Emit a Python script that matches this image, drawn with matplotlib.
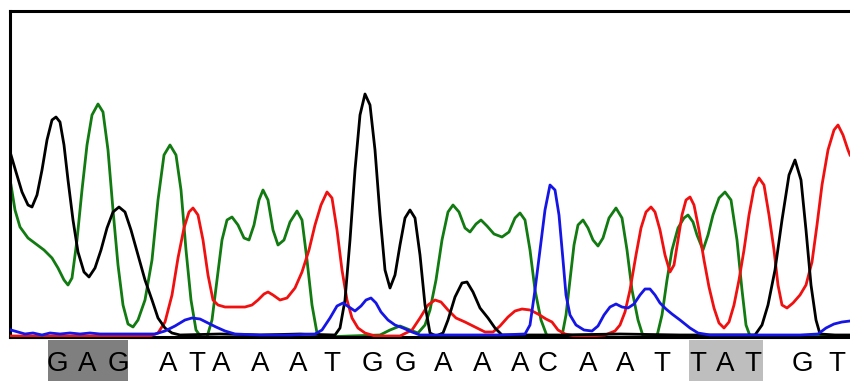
import matplotlib
matplotlib.use("Agg")
import matplotlib.pyplot as plt
from matplotlib.patches import Rectangle

plt.rcParams["font.family"] = ["Liberation Sans", "DejaVu Sans"]

# trace data: scan position vs signal height
black_x = [11, 16, 22, 28, 32, 37, 42, 47, 52, 56, 60, 64, 68, 73, 78, 84, 89, 95, 101, 107,
           113, 119, 125, 131, 138, 145, 152, 158, 165, 172, 180, 220, 260, 300, 335, 340, 345, 350, 355, 360,
           365, 370, 375, 380, 385, 390, 395, 400, 405, 410, 415, 420, 425, 430, 436, 443, 448, 455, 462, 467,
           473, 480, 488, 495, 502, 560, 620, 680, 755, 762, 768, 775, 782, 789, 795, 801, 806, 811, 816, 820,
           835, 850]
black_y = [182, 165, 145, 132, 130, 142, 167, 197, 217, 220, 215, 192, 157, 117, 85, 65, 60, 69, 87, 109,
           125, 130, 125, 107, 82, 57, 37, 19, 9, 4, 2, 3, 2, 3, 2, 9, 37, 97, 167, 222,
           243, 232, 187, 122, 67, 49, 62, 92, 119, 127, 119, 82, 32, 4, 1, 4, 17, 40, 54, 55,
           45, 29, 19, 9, 2, 2, 3, 2, 2, 12, 32, 67, 117, 162, 177, 157, 107, 52, 17, 3,
           2, 2]

green_x = [11, 15, 20, 28, 36, 44, 52, 58, 64, 68, 72, 77, 82, 87, 92, 98, 103, 108, 113, 118,
           123, 128, 133, 138, 145, 152, 158, 164, 170, 176, 181, 186, 191, 196, 201, 207, 212, 217, 222, 227,
           232, 238, 244, 249, 254, 259, 263, 268, 273, 278, 284, 290, 297, 302, 307, 312, 317, 322, 350, 380,
           390, 400, 410, 418, 425, 430, 436, 442, 448, 453, 459, 465, 470, 476, 481, 487, 494, 502, 509, 515,
           520, 525, 530, 535, 541, 547, 562, 566, 570, 574, 578, 583, 588, 593, 598, 603, 609, 616, 622, 627,
           632, 638, 643, 657, 662, 667, 672, 678, 684, 688, 693, 697, 703, 708, 713, 719, 725, 731, 737, 742,
           746, 750, 800, 850]
green_y = [152, 127, 110, 99, 93, 87, 79, 69, 57, 52, 59, 97, 147, 192, 222, 233, 225, 187, 127, 72,
           32, 13, 10, 17, 37, 77, 137, 182, 192, 182, 147, 87, 37, 7, 0, 0, 17, 57, 97, 117,
           120, 112, 99, 97, 112, 137, 147, 137, 107, 92, 97, 115, 126, 117, 77, 32, 4, 0, 1, 2,
           7, 11, 7, 4, 12, 27, 57, 97, 125, 132, 125, 109, 105, 113, 117, 111, 103, 100, 105, 119,
           124, 117, 87, 47, 17, 1, 1, 22, 57, 92, 112, 117, 109, 97, 91, 99, 119, 129, 119, 87,
           47, 17, 1, 1, 22, 57, 87, 109, 119, 122, 115, 102, 87, 102, 122, 139, 145, 137, 97, 47,
           12, 1, 1, 1]

red_x = [11, 50, 100, 150, 158, 165, 172, 178, 184, 189, 193, 198, 203, 208, 213, 218, 225, 235, 245, 252,
         258, 264, 268, 273, 280, 287, 295, 302, 309, 315, 321, 327, 332, 337, 342, 347, 352, 358, 365, 375,
         400, 412, 420, 428, 435, 441, 448, 456, 465, 475, 485, 493, 500, 508, 515, 522, 530, 538, 546, 552,
         558, 565, 575, 590, 605, 615, 620, 625, 630, 636, 641, 646, 651, 655, 660, 665, 670, 674, 678, 682,
         686, 690, 694, 699, 704, 709, 714, 719, 724, 729, 734, 739, 744, 749, 754, 759, 764, 769, 774, 778,
         782, 787, 793, 800, 806, 812, 817, 822, 828, 834, 838, 843, 848, 850]
red_y = [1, 1, 1, 1, 4, 15, 42, 79, 109, 125, 129, 122, 97, 62, 37, 32, 30, 30, 30, 32,
         37, 43, 45, 42, 37, 39, 49, 65, 87, 112, 132, 145, 139, 107, 67, 37, 19, 9, 4, 1,
         1, 7, 19, 32, 37, 35, 27, 19, 15, 10, 5, 5, 11, 20, 26, 28, 27, 23, 18, 15,
         7, 3, 1, 1, 2, 6, 12, 25, 47, 82, 109, 125, 130, 125, 107, 82, 65, 72, 97, 122,
         137, 140, 132, 107, 77, 50, 29, 14, 9, 15, 32, 57, 87, 122, 149, 159, 152, 122, 87, 52,
         32, 29, 34, 42, 52, 75, 112, 152, 187, 207, 212, 202, 187, 182]

blue_x = [11, 18, 25, 33, 42, 50, 60, 70, 80, 90, 100, 120, 140, 155, 165, 175, 185, 192, 200, 208,
          216, 225, 235, 260, 290, 315, 322, 330, 337, 343, 349, 355, 361, 366, 371, 376, 381, 388, 395, 403,
          412, 420, 460, 500, 525, 530, 535, 540, 545, 550, 555, 559, 563, 566, 570, 576, 584, 592, 598, 604,
          610, 616, 622, 628, 634, 640, 645, 650, 655, 660, 666, 672, 680, 690, 698, 710, 740, 770, 800, 818,
          826, 834, 842, 850]
blue_y = [7, 5, 3, 4, 2, 4, 3, 4, 3, 4, 3, 3, 3, 3, 6, 11, 17, 19, 18, 14,
          10, 6, 3, 2, 2, 3, 7, 19, 31, 34, 30, 26, 31, 37, 39, 34, 25, 17, 12, 9,
          5, 2, 2, 2, 3, 12, 47, 87, 127, 152, 147, 122, 77, 42, 22, 12, 7, 6, 11, 22,
          30, 33, 30, 29, 33, 42, 48, 48, 42, 34, 28, 23, 17, 9, 4, 2, 2, 2, 2, 3,
          9, 13, 15, 16]

# base calls
bases = list("GAGATAAATGGAAACAATTATGT")
base_x = [57, 87, 118, 168, 197, 221, 260, 298, 332, 372, 405, 443, 482, 520, 548, 588, 625, 662,
          698, 725, 753, 802, 837]
# (first index, last index, shade) of highlighted codons
highlights = [(0, 2, "#7f7f7f"), (18, 20, "#bebebe")]

fig = plt.figure(figsize=(8.5, 3.81), dpi=100)
ax = fig.add_axes([10 / 850, 44 / 381, 840 / 850, 326 / 381])

lw = 2.0
ax.plot(green_x, green_y, color="#117a11", lw=lw, solid_joinstyle="round", zorder=2)
ax.plot(red_x, red_y, color="#f01010", lw=lw, solid_joinstyle="round", zorder=3)
ax.plot(black_x, black_y, color="#000000", lw=lw, solid_joinstyle="round", zorder=4)
ax.plot(blue_x, blue_y, color="#1515e6", lw=lw, solid_joinstyle="round", zorder=5)

ax.set_xlim(10, 850)
ax.set_ylim(0, 326)
ax.set_xticks([])
ax.set_yticks([])
ax.spines["right"].set_visible(False)
for side in ("left", "top", "bottom"):
    ax.spines[side].set_linewidth(2.2)

trans = ax.get_xaxis_transform()
for i0, i1, col in highlights:
    left = base_x[i0] - 9
    right = base_x[i1] + 10
    ax.add_patch(Rectangle((left, -44 / 326), right - left, 41 / 326, transform=trans,
                           facecolor=col, edgecolor="none", clip_on=False, zorder=0))
for b, x in zip(bases, base_x):
    ax.text(x, -27 / 326, b, transform=trans, ha="center", va="center", fontsize=20,
            color="black", clip_on=False)

fig.savefig("out.png", dpi=100, facecolor="white")
